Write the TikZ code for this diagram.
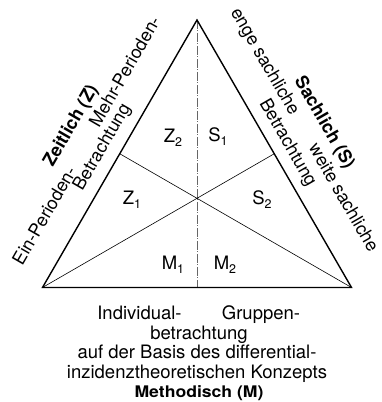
\documentclass[tikz,border=0pt]{standalone}
\usepackage{fontspec}
\setmainfont{TeX Gyre Heros}
\usetikzlibrary{calc}
\newcommand\subn[1]{\raisebox{-0.4ex}{\fontsize{12.5}{12.5}\selectfont #1}}
\begin{document}
\begin{tikzpicture}[x=1pt,y=1pt,
  edge/.style={line width=1.4pt, line join=miter},
  inner/.style={line width=0.6pt},
  axisline/.style={line width=0.5pt, black!60, dash pattern=on 9pt off 1.5pt on 1pt off 1.5pt},
  lab/.style={font=\fontsize{18.5}{18.5}\selectfont, inner sep=0pt},
  side/.style={font=\fontsize{18}{18}\selectfont, inner sep=0pt},
  sidebold/.style={font=\fontsize{18}{18}\selectfont\bfseries, inner sep=0pt},
  bottomtxt/.style={font=\fontsize{18.5}{18.5}\selectfont, inner sep=0pt, anchor=base},
  bottombold/.style={font=\fontsize{16}{16}\selectfont\bfseries, inner sep=0pt, anchor=base}]
\useasboundingbox (0,0) rectangle (381,402);
\coordinate (T) at (197,382);
\coordinate (L) at (42.5,114.5);
\coordinate (R) at (351.5,114.5);
\coordinate (O) at (197,203.7);
\coordinate (ML) at ($(T)!0.5!(L)$);
\coordinate (MR) at ($(T)!0.5!(R)$);
\coordinate (MB) at (197,114.5);
\draw[axisline] (T) -- (MB);
\draw[inner] (ML) -- (O) -- (MR);
\draw[inner] (L) -- (O) -- (R);
\draw[edge] (T) -- (L) -- (R) -- cycle;
% sector labels
\node[lab] (z2) at (173,264) {Z\subn{2}};
\node[lab] (s1) at (218,265) {S\subn{1}};
\node[lab] (z1) at (132,202) {Z\subn{1}};
\node[lab] (s2) at (262,202) {S\subn{2}};
\node[lab] (m1) at (173,137) {M\subn{1}};
\node[lab] (m2) at (225,137) {M\subn{2}};
% left side
\node[sidebold, rotate=60] (zeit) at (71.3,275.9) {Zeitlich (Z)};
\node[side, rotate=60] (ein) at (44.1,186.6) {Ein-Perioden-};
\node[side, rotate=60] (mehr) at (124.6,330.6) {Mehr-Perioden-};
\node[side, rotate=60] (betl) at (102.7,254.4) {Betrachtung};
% right side
\node[sidebold, rotate=-60] (sach) at (324.2,279.1) {Sachlich (S)};
\node[side, rotate=-60] (enge) at (264.3,340.1) {enge sachliche};
\node[side, rotate=-60] (weite) at (344.4,204.6) {weite sachliche};
\node[side, rotate=-60] (betr) at (287.4,258.8) {Betrachtung};
% bottom
\node[bottomtxt] (ind) at (139.5,82) {Individual-};
\node[bottomtxt] (grp) at (261,82) {Gruppen-};
\node[bottomtxt] (betb) at (199,62.5) {betrachtung};
\node[bottomtxt] (basis) at (197,43) {auf der Basis des differential-};
\node[bottomtxt] (inz) at (197,23.7) {inzidenztheoretischen Konzepts};
\node[bottombold] (meth) at (199,4.5) {\scalebox{1.1}[1]{Methodisch (M)}};
\end{tikzpicture}
\end{document}
